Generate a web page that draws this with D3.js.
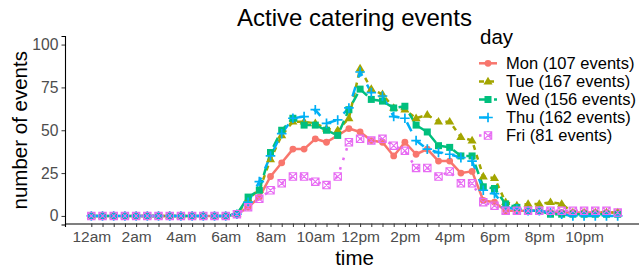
<!DOCTYPE html>
<html>
<head>
<meta charset="utf-8">
<script src="https://cdn.jsdelivr.net/npm/d3@7"></script>
<style>
  html, body { margin: 0; padding: 0; background: #fff; }
  svg { display: block; font-family: "Liberation Sans", Arial, sans-serif; }
</style>
</head>
<body>
<svg id="chart" width="639" height="269"></svg>
<script>
// ---- data ----
const times = [
  "00:00","00:30","01:00","01:30","02:00","02:30","03:00","03:30",
  "04:00","04:30","05:00","05:30","06:00","06:30","07:00","07:30",
  "08:00","08:30","09:00","09:30","10:00","10:30","11:00","11:30",
  "12:00","12:30","13:00","13:30","14:00","14:30","15:00","15:30",
  "16:00","16:30","17:00","17:30","18:00","18:30","19:00","19:30",
  "20:00","20:30","21:00","21:30","22:00","22:30","23:00","23:30"
];
const days = ["Mon (107 events)", "Tue (167 events)", "Wed (156 events)", "Thu (162 events)", "Fri (81 events)"];
const mon = [0,0,0,0,0,0,0,0,0,0,0,0, 0,1,5,11,23,31,39,39,45,43,47,51, 49,44,43,35,43,36,39,32,32,25,26,9,8,3,3,3,3,2,2,2,2,2,2,2];
const tue = [0,0,0,0,0,0,0,0,0,0,0,0, 0,1,10,15,33,47,55,55,54,51,50,57, 86,74,71,63,62,57,59,55,55,46,44,23,22,8,6,7,7,8,7,2,2,2,2,2];
const wed = [0,0,0,0,0,0,0,0,0,0,0,0, 0,1,11,15,37,50,57,53,53,50,47,62, 74,68,67,63,64,53,49,41,40,35,35,17,16,7,5,3,3,1,1,1,1,1,1,1];
const thu = [0,0,0,0,0,0,0,0,0,0,0,0, 0,1,8,20,35,48,57,58,62,54,56,63, 84,72,70,58,57,44,39,37,36,34,32,15,13,5,4,3,3,2,1,0,0,0,0,0];
const fri = [0,0,0,0,0,0,0,0,0,0,0,0, 0,1,5,10,15,19,23,23,20,18,23,43, 45,44,45,41,38,28,28,23,26,19,19,8,6,3,3,3,3,3,3,3,3,3,3,2];
const yTicks = [0, 25, 50, 75, 100];
const xLabelHours = [0, 2, 4, 6, 8, 10, 12, 14, 16, 18, 20, 22];
const xLabels = ["12am","2am","4am","6am","8am","10am","12pm","2pm","4pm","6pm","8pm","10pm"];

// ---- styles ----
const colors = ["#F8766D", "#A3A500", "#00BF7D", "#00B0F6", "#E76BF3"];
const dashes = [null, "5,5", "10,5", "10,10", "2.5,7.5"];
const shapes = ["circle", "triangle", "square", "plus", "squarex"];
const series = [mon, tue, wed, thu, fri];

const svg = d3.select("#chart");
const panel = { left: 65, right: 644, top: 36, bottom: 224.5 };

const toHour = t => { const [h, m] = t.split(":").map(Number); return h + m / 60; };

const x = d3.scaleLinear().domain([-1.175, 24.675]).range([panel.left, panel.right]);
const y = d3.scaleLinear().domain([-5, 105]).range([panel.bottom, panel.top]);

// axes
const yAxis = d3.axisLeft(y).tickValues(yTicks).tickSize(3.5).tickPadding(3);
const gy = svg.append("g").attr("transform", `translate(${panel.left},0)`).call(yAxis);
gy.select(".domain").attr("stroke", "#000").attr("stroke-width", 1.1);
gy.selectAll(".tick line").attr("stroke", "#333");
gy.selectAll(".tick text").attr("fill", "#4D4D4D").style("font-size", "15.7px")
  .style("font-family", "'Liberation Sans', Arial, sans-serif");

const xAxis = d3.axisBottom(x).tickValues(times.map(toHour)).tickSize(3.5).tickPadding(4)
  .tickFormat(h => { const i = xLabelHours.indexOf(h); return i >= 0 ? xLabels[i] : ""; });
const gx = svg.append("g").attr("transform", `translate(0,${panel.bottom - 1})`).call(xAxis);
gx.select(".domain").attr("stroke", "#000").attr("stroke-width", 1.1);
gx.selectAll(".tick line").attr("stroke", "#333");
gx.selectAll(".tick text").attr("fill", "#4D4D4D").style("font-size", "15.5px")
  .style("font-family", "'Liberation Sans', Arial, sans-serif");

// symbol drawing
function drawShape(g, shape, cx, cy, color) {
  if (shape === "circle") {
    g.append("circle").attr("cx", cx).attr("cy", cy).attr("r", 3.4).attr("fill", color);
  } else if (shape === "triangle") {
    const s = 4.8;
    g.append("path").attr("d", `M${cx},${cy - s}L${cx + s * 0.95},${cy + s * 0.6}L${cx - s * 0.95},${cy + s * 0.6}Z`).attr("fill", color);
  } else if (shape === "square") {
    g.append("rect").attr("x", cx - 3.5).attr("y", cy - 3.5).attr("width", 7).attr("height", 7).attr("fill", color);
  } else if (shape === "plus") {
    const s = 4.8;
    g.append("path").attr("d", `M${cx - s},${cy}H${cx + s}M${cx},${cy - s}V${cy + s}`)
      .attr("stroke", color).attr("stroke-width", 1.7).attr("fill", "none");
  } else if (shape === "squarex") {
    const s = 3.7;
    g.append("path").attr("d", `M${cx - s},${cy - s}H${cx + s}V${cy + s}H${cx - s}Z M${cx - s},${cy - s}L${cx + s},${cy + s}M${cx + s},${cy - s}L${cx - s},${cy + s}`)
      .attr("stroke", color).attr("stroke-width", 1.1).attr("fill", "none");
  }
}

// lines
const line = d3.line().x((d, i) => x(toHour(times[i]))).y(d => y(d));
const plot = svg.append("g");
series.forEach((vals, k) => {
  plot.append("path").datum(vals).attr("d", line)
    .attr("fill", "none").attr("stroke", colors[k]).attr("stroke-width", 2.5)
    .attr("stroke-dasharray", dashes[k]).attr("stroke-linejoin", "round");
});
series.forEach((vals, k) => {
  const g = plot.append("g");
  vals.forEach((v, i) => drawShape(g, shapes[k], x(toHour(times[i])), y(v), colors[k]));
});

// title
svg.append("text").attr("x", (panel.left + panel.right) / 2).attr("y", 26)
  .attr("text-anchor", "middle").style("font-size", "24px").attr("fill", "#000")
  .text("Active catering events");

// axis titles
svg.append("text").attr("x", (panel.left + panel.right) / 2).attr("y", 264.5)
  .attr("text-anchor", "middle").style("font-size", "20.5px").attr("fill", "#000").text("time");
svg.append("text").attr("transform", `translate(27,${(panel.top + panel.bottom) / 2 + 0}) rotate(-90)`)
  .attr("text-anchor", "middle").style("font-size", "20.5px").attr("fill", "#000").text("number of events");

// legend
const lg = svg.append("g");
lg.append("text").attr("x", 480).attr("y", 44).style("font-size", "20.5px").attr("fill", "#000").text("day");
const rowY = [63.3, 81.5, 99.5, 117.5, 135.5];
days.forEach((d, k) => {
  const cy = rowY[k];
  lg.append("line").attr("x1", 479).attr("x2", 497).attr("y1", cy).attr("y2", cy)
    .attr("stroke", colors[k]).attr("stroke-width", 2.5).attr("stroke-dasharray", dashes[k]);
  drawShape(lg, shapes[k], 488, cy, colors[k]);
  lg.append("text").attr("x", 506).attr("y", cy + 5.8).style("font-size", "16.5px").attr("fill", "#000").text(d);
});
</script>
</body>
</html>
